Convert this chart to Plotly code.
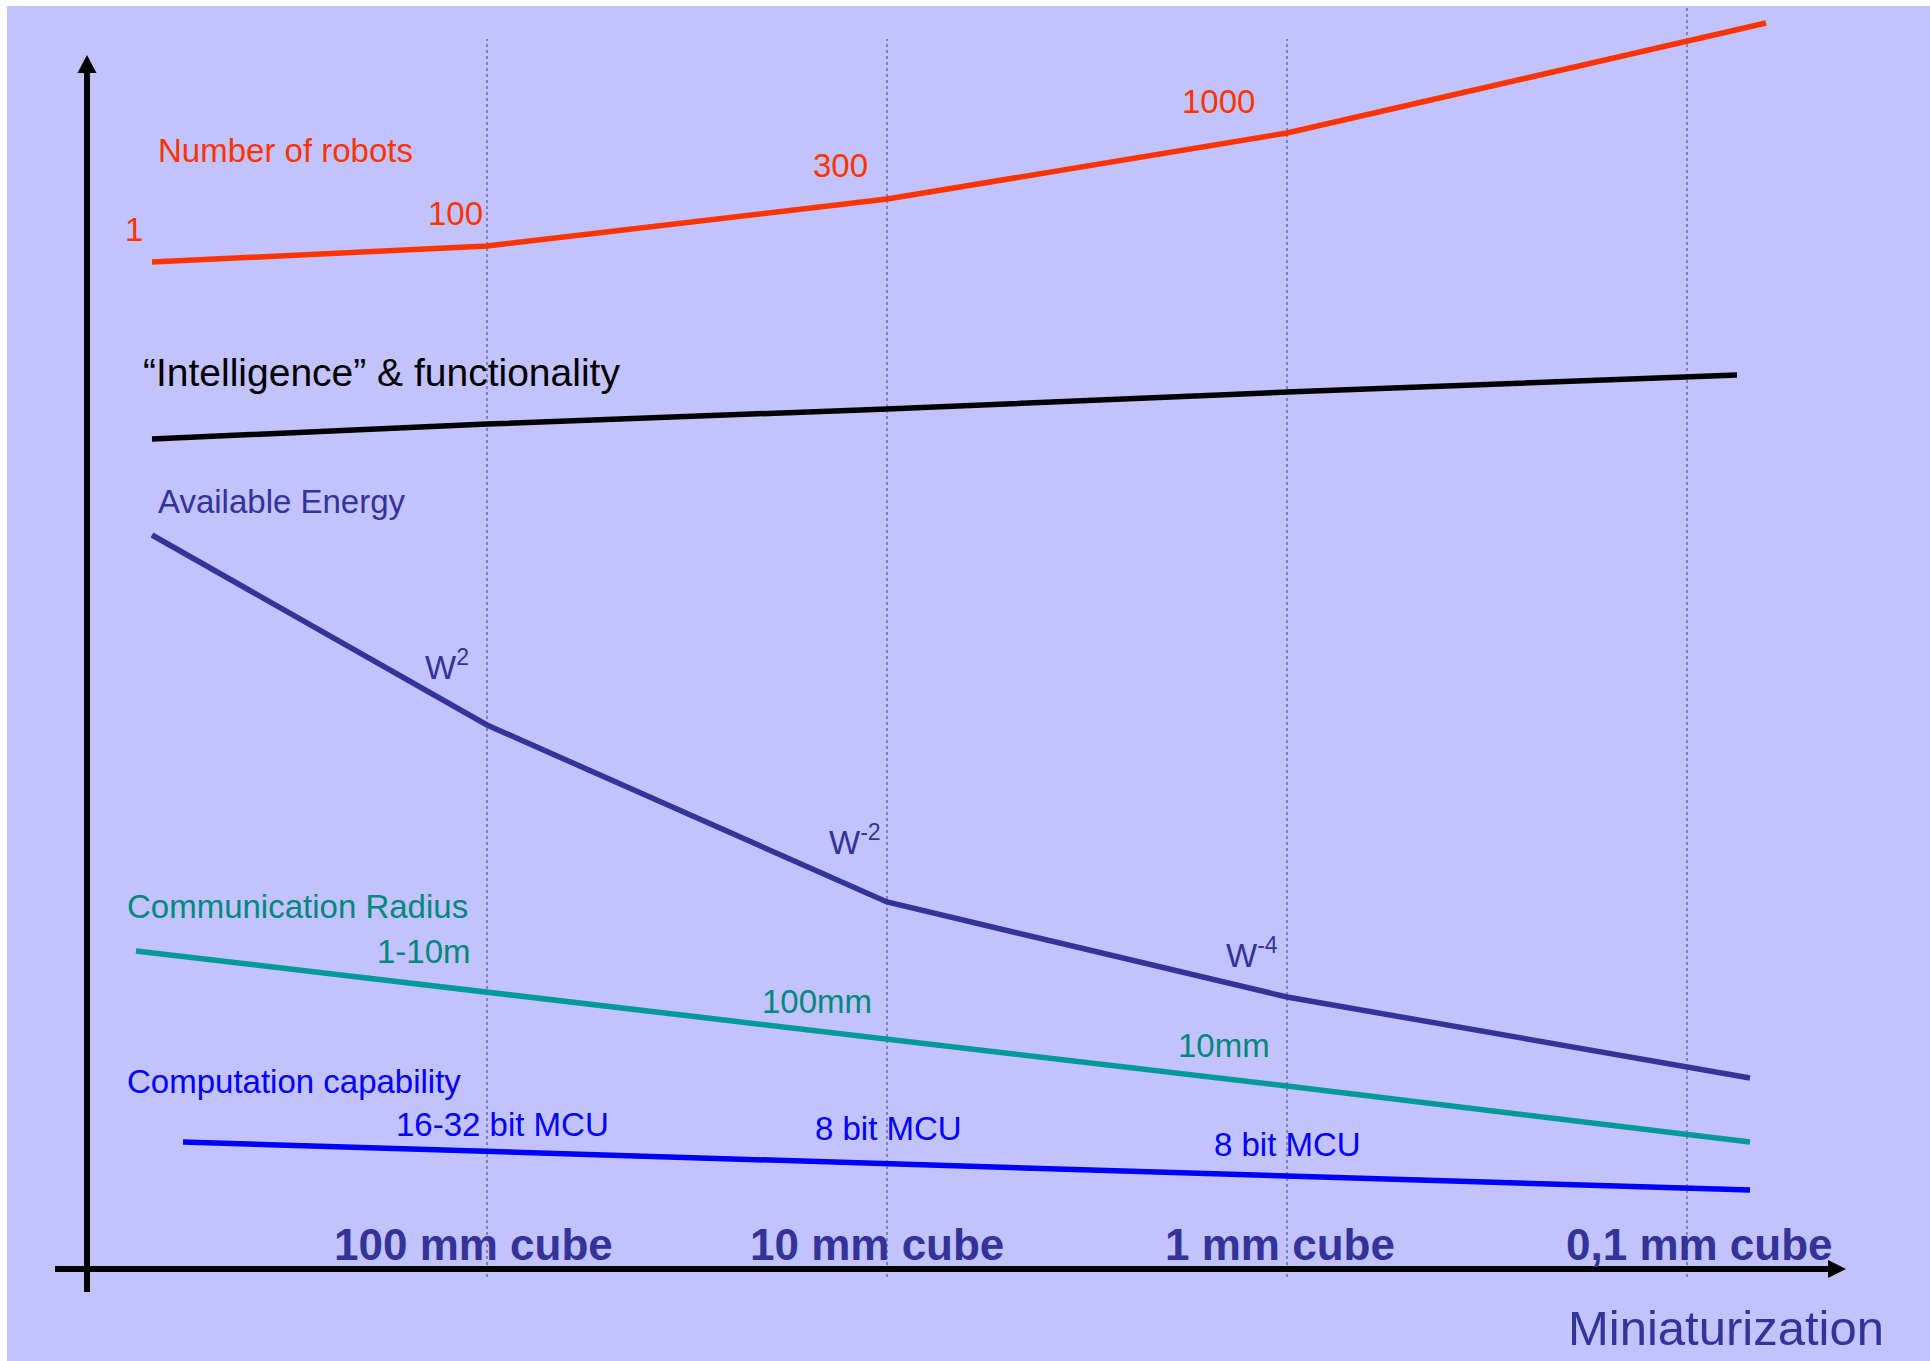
import plotly.graph_objects as go

# ---------------- data ----------------
# x: miniaturization steps (1 = 100 mm cube ... 4 = 0,1 mm cube), y: relative level
size_labels = ["100 mm cube", "10 mm cube", "1 mm cube", "0,1 mm cube"]
size_pos = [1, 2, 3, 4]

robots_x = [0.1625, 1, 2, 3, 4.1975]
robots_y = [100.7, 102.3, 107.0, 113.6, 124.6]
robots_vals = ["1", "100", "300", "1000"]

intel_x = [0.1625, 1, 2, 3, 4.125]
intel_y = [83.0, 84.5, 86.0, 87.7, 89.4]

energy_x = [0.1625, 1, 2, 3, 4.1575]
energy_y = [73.4, 54.4, 36.7, 27.2, 19.1]
energy_vals = ["W<sup>2</sup>", "W<sup>-2</sup>", "W<sup>-4</sup>"]

comm_x = [0.1225, 1, 2, 3, 4.1575]
comm_y = [31.8, 27.7, 23.0, 18.3, 12.7]
comm_vals = ["1-10m", "100mm", "10mm"]

comp_x = [0.24, 1, 2, 3, 4.1575]
comp_y = [12.7, 11.8, 10.6, 9.3, 7.9]
comp_vals = ["16-32 bit MCU", "8 bit MCU", "8 bit MCU"]

# ---------------- styles ----------------
FONT = "Liberation Sans, Arial, sans-serif"
BG = "#C2C2FC"
RED = "#FF3300"
NAVY = "#333399"
TEAL = "#009999"
TEAL_TXT = "#00887F"
BLUE = "#0000FF"

fig = go.Figure()

def add_line(x, y, color):
    fig.add_trace(go.Scatter(x=x, y=y, mode="lines",
                             line=dict(color=color, width=5.5),
                             hoverinfo="skip", showlegend=False))

add_line(robots_x, robots_y, RED)
add_line(intel_x, intel_y, "#000000")
add_line(energy_x, energy_y, NAVY)
add_line(comm_x, comm_y, TEAL)
add_line(comp_x, comp_y, BLUE)

shapes = []
# dotted vertical guides
for p in size_pos:
    top = 123.0 if p < 4 else 126.3
    shapes.append(dict(type="line", xref="x", yref="y", x0=p, x1=p, y0=-0.8, y1=top,
                       line=dict(color="#45456A", width=1, dash="dot"), layer="below"))
# axes with arrows
shapes.append(dict(type="line", xref="x", yref="y", x0=-0.08, x1=4.355, y0=0, y1=0,
                   line=dict(color="black", width=6)))
shapes.append(dict(type="path", xref="x", yref="y",
                   path="M 4.3525,0.9 L 4.3975,0 L 4.3525,-0.9 Z",
                   fillcolor="black", line=dict(color="black", width=0)))
shapes.append(dict(type="line", xref="x", yref="y", x0=0, x1=0, y0=-2.3, y1=119.8,
                   line=dict(color="black", width=6)))
shapes.append(dict(type="path", xref="x", yref="y",
                   path="M -0.02375,119.6 L 0,121.4 L 0.02375,119.6 Z",
                   fillcolor="black", line=dict(color="black", width=0)))

ann = []
def txt(text, x, y, color, size, xanchor="left", bold=False):
    ann.append(dict(text=("<b>%s</b>" % text) if bold else text, x=x, y=y,
                    xref="x", yref="y", xanchor=xanchor, yanchor="middle",
                    showarrow=False, font=dict(family=FONT, size=size, color=color)))

# series titles
txt("Number of robots", 0.1725, 111.8, RED, 33)
txt("\u201cIntelligence\u201d &amp; functionality", 0.135, 89.65, "#000000", 39)
txt("Available Energy", 0.1725, 76.75, NAVY, 33)
txt("Communication Radius", 0.095, 36.3, TEAL_TXT, 33)
txt("Computation capability", 0.095, 18.8, BLUE, 33)

# value labels
rob_pos = [(0.117, 103.95, "center"), (0.92, 105.5, "center"),
           (1.8825, 110.3, "center"), (2.8275, 116.7, "center")]
for v, (x, y, a) in zip(robots_vals, rob_pos):
    txt(v, x, y, RED, 33, a)

en_pos = [(0.96, 60.4), (1.99, 42.9), (2.9825, 31.65)]
for v, (x, y) in zip(energy_vals, en_pos):
    txt(v, x, y, NAVY, 33, "right")

cm_pos = [(0.965, 31.8), (1.9675, 26.8), (2.9625, 22.35)]
for v, (x, y) in zip(comm_vals, cm_pos):
    txt(v, x, y, TEAL_TXT, 33, "right")

cp_pos = [(0.7675, 14.45), (1.815, 14.05), (2.8125, 12.45)]
for v, (x, y) in zip(comp_vals, cp_pos):
    txt(v, x, y, BLUE, 33, "left")

# size labels along the x axis
size_off = [-0.034, -0.025, -0.0175, 0.03]
for lab, p, o in zip(size_labels, size_pos, size_off):
    txt(lab, p + o, 2.5, NAVY, 44, "center", bold=True)

txt("Miniaturization", 4.0975, -5.85, NAVY, 49, "center")

fig.update_layout(
    width=1930, height=1361,
    margin=dict(l=0, r=0, t=0, b=0),
    paper_bgcolor="white", plot_bgcolor=BG,
    xaxis=dict(domain=[7 / 1930, 1], range=[-0.2, 4.6075], visible=False, fixedrange=True),
    yaxis=dict(domain=[0, 1 - 6 / 1361], range=[-9.2, 126.3], visible=False, fixedrange=True),
    shapes=shapes, annotations=ann, showlegend=False,
)

fig.write_html("out.html")
